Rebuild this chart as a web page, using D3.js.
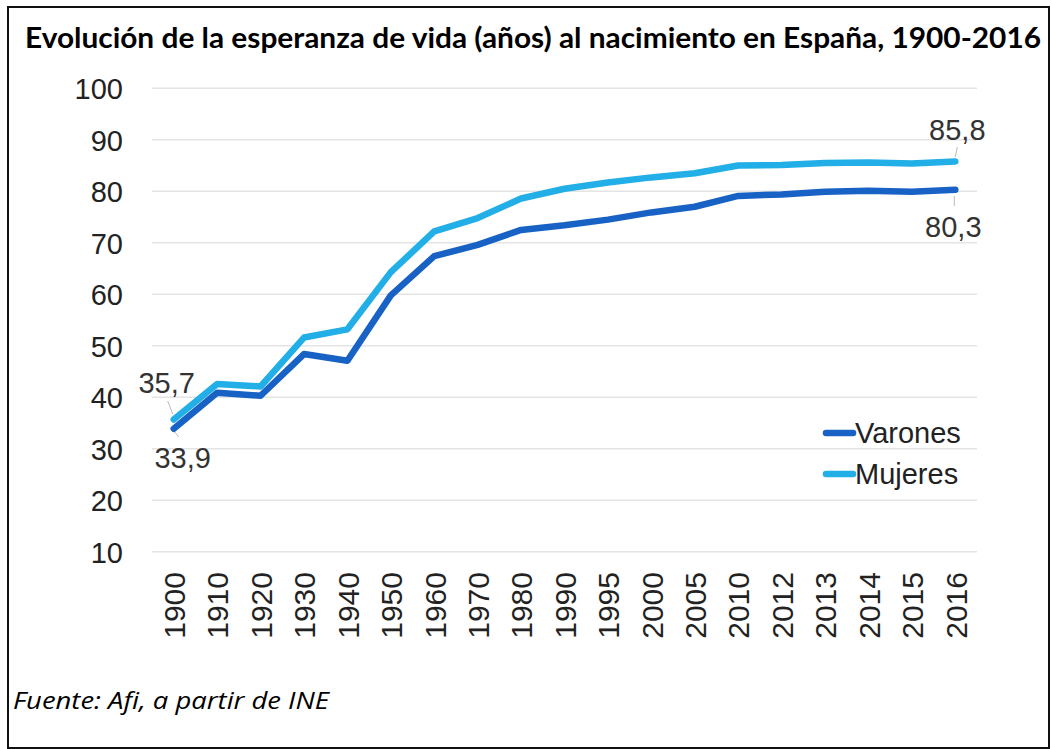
<!DOCTYPE html>
<html>
<head>
<meta charset="utf-8">
<script src="https://cdn.jsdelivr.net/npm/d3@7"></script>
<style>
  html, body { margin: 0; padding: 0; background: #fff; }
  svg { display: block; }
</style>
</head>
<body>
<svg id="chart" width="1051" height="749"></svg>
<script>
// ---- data ----
const years = ["1900","1910","1920","1930","1940","1950","1960","1970","1980","1990","1995","2000","2005","2010","2012","2013","2014","2015","2016"];
const varones = [33.9,40.9,40.3,48.4,47.1,59.8,67.4,69.6,72.5,73.4,74.5,75.9,77.0,79.1,79.4,79.9,80.1,79.9,80.3];
const mujeres = [35.7,42.6,42.1,51.6,53.2,64.3,72.2,74.8,78.6,80.5,81.7,82.7,83.5,85.0,85.1,85.5,85.6,85.4,85.8];
const yTicks = [10,20,30,40,50,60,70,80,90,100];
const seriesNames = ["Varones","Mujeres"];
const titleText = "Evolución de la esperanza de vida (años) al nacimiento en España, 1900-2016";
const sourceText = "Fuente: Afi, a partir de INE";

const colors = { Varones: "#1762c4", Mujeres: "#22aee6" };

const svg = d3.select("#chart");

// frame
svg.append("rect")
  .attr("x", 8).attr("y", 7).attr("width", 1041).attr("height", 741)
  .attr("fill", "#fff").attr("stroke", "#111").attr("stroke-width", 2);

// title
svg.append("text")
  .attr("x", 25).attr("y", 48)
  .attr("font-family", "Lato, 'Open Sans', sans-serif")
  .attr("font-weight", "bold").attr("font-size", 28.5)
  .attr("fill", "#000")
  .attr("textLength", 1016).attr("lengthAdjust", "spacingAndGlyphs")
  .text(titleText);

// scales
const x = d3.scalePoint().domain(years).range([152, 977]).padding(0.5);
const y = d3.scaleLinear().domain([10, 100]).range([551.8, 88.3]);

// grid
const grid = svg.append("g");
grid.selectAll("line").data(yTicks).join("line")
  .attr("x1", 152).attr("x2", 977)
  .attr("y1", d => y(d)).attr("y2", d => y(d))
  .attr("stroke", "#e4e4e4").attr("stroke-width", 1.6);

// y axis
const yAxis = svg.append("g").attr("transform", "translate(123,0)")
  .call(d3.axisLeft(y).tickValues(yTicks).tickSize(0).tickPadding(0));
yAxis.select(".domain").remove();
yAxis.selectAll("text")
  .attr("font-family", "'Liberation Sans', Arial, sans-serif")
  .attr("font-size", 29).attr("fill", "#222").attr("dy", "0.36em");

// x axis
const xAxis = svg.append("g").attr("transform", "translate(0,572)")
  .call(d3.axisBottom(x).tickSize(0).tickPadding(0));
xAxis.select(".domain").remove();
xAxis.selectAll("text")
  .attr("font-family", "'Liberation Sans', Arial, sans-serif")
  .attr("font-size", 30).attr("fill", "#222")
  .attr("transform", "rotate(-90)")
  .attr("text-anchor", "end")
  .attr("x", 0).attr("y", 0).attr("dy", "0.36em");

// lines
const line = d3.line().x((d, i) => x(years[i])).y(d => y(d));
const seriesData = { Varones: varones, Mujeres: mujeres };
seriesNames.forEach(name => {
  svg.append("path")
    .datum(seriesData[name])
    .attr("fill", "none")
    .attr("stroke", colors[name])
    .attr("stroke-width", 6.5)
    .attr("stroke-linejoin", "round")
    .attr("stroke-linecap", "round")
    .attr("d", line);
});

// data labels
const fmt = v => v.toFixed(1).replace(".", ",");
const lab = svg.append("g")
  .attr("font-family", "'Liberation Sans', Arial, sans-serif")
  .attr("font-size", 29).attr("fill", "#333");
const first = years[0], last = years[years.length - 1];
const labels = [
  { v: mujeres[0], lx: x(first) - 7, ly: 393, lead: [[x(first) - 6, 401], [x(first) - 1, 414]] },
  { v: varones[0], lx: x(first) + 9, ly: 468, lead: [[x(first) + 1, 432], [x(first) + 5, 437]] },
  { v: mujeres[mujeres.length - 1], lx: x(last) + 2, ly: 140, lead: [[x(last) + 2, 147], [x(last), 157]] },
  { v: varones[varones.length - 1], lx: x(last) - 2, ly: 237, lead: [[x(last) - 1, 196], [x(last) - 1, 206]] }
];
labels.forEach(l => {
  svg.append("line")
    .attr("x1", l.lead[0][0]).attr("y1", l.lead[0][1])
    .attr("x2", l.lead[1][0]).attr("y2", l.lead[1][1])
    .attr("stroke", "#bbb").attr("stroke-width", 1);
  lab.append("text").attr("x", l.lx).attr("y", l.ly)
    .attr("text-anchor", "middle").text(fmt(l.v));
});

// legend
const leg = svg.append("g");
seriesNames.forEach((name, i) => {
  const ly = 433 + i * 41;
  leg.append("line")
    .attr("x1", 826).attr("x2", 853).attr("y1", ly).attr("y2", ly)
    .attr("stroke", colors[name]).attr("stroke-width", 6.5)
    .attr("stroke-linecap", "round");
  leg.append("text")
    .attr("x", 855).attr("y", ly).attr("dy", "0.36em")
    .attr("font-family", "'Liberation Sans', Arial, sans-serif")
    .attr("font-size", 29).attr("fill", "#222")
    .text(name);
});

// source
svg.append("text")
  .attr("x", 13).attr("y", 709)
  .attr("font-family", "'Open Sans', sans-serif")
  .attr("font-style", "italic").attr("font-size", 23.5)
  .attr("fill", "#000")
  .attr("textLength", 316).attr("lengthAdjust", "spacingAndGlyphs")
  .text(sourceText);
</script>
</body>
</html>
